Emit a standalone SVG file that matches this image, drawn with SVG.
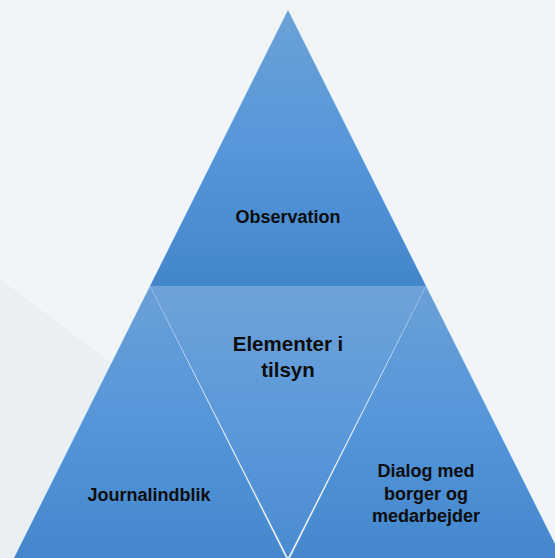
<svg xmlns="http://www.w3.org/2000/svg" width="555" height="558" viewBox="0 0 555 558">
  <defs>
    <linearGradient id="gTop" x1="0" y1="10" x2="0" y2="286" gradientUnits="userSpaceOnUse">
      <stop offset="0" stop-color="#6ba2d8"/>
      <stop offset="0.55" stop-color="#5495da"/>
      <stop offset="1" stop-color="#4286ca"/>
    </linearGradient>
    <linearGradient id="gMid" x1="0" y1="286" x2="0" y2="558" gradientUnits="userSpaceOnUse">
      <stop offset="0" stop-color="#6fa2d9"/>
      <stop offset="0.5" stop-color="#5b99da"/>
      <stop offset="1" stop-color="#4a8bcf"/>
    </linearGradient>
    <linearGradient id="gSide" x1="0" y1="286" x2="0" y2="558" gradientUnits="userSpaceOnUse">
      <stop offset="0" stop-color="#6aa0d8"/>
      <stop offset="0.5" stop-color="#5596da"/>
      <stop offset="1" stop-color="#4487cc"/>
    </linearGradient>
    <style>
      .lbl { font-family: "Liberation Sans", Arial, sans-serif; font-weight: bold; fill: #0d0d0d; text-anchor: middle; }
      .sep { fill: none; stroke: #ffffff; stroke-opacity: 0.3; stroke-width: 0.7; stroke-dasharray: 1.5 1.5; }
    </style>
  </defs>
  <rect x="0" y="0" width="555" height="558" fill="#f2f5f8"/>
  <polygon points="0,279 370,558 0,558" fill="#e9eff2"/>

  <g id="node-observation">
    <polygon points="288,10 426,286 150,286" fill="url(#gTop)"/>
    <text class="lbl" x="288" y="223" font-size="18">Observation</text>
  </g>
  <g id="node-journalindblik">
    <polygon points="150,286 286,558 14,558" fill="url(#gSide)"/>
    <text class="lbl" x="149" y="501" font-size="18">Journalindblik</text>
  </g>
  <g id="node-dialog">
    <polygon points="426,286 562,558 290,558" fill="url(#gSide)"/>
    <text class="lbl" font-size="18" x="426"><tspan x="426" y="477">Dialog med</tspan><tspan x="426" y="499.5">borger og</tspan><tspan x="426" y="522">medarbejder</tspan></text>
  </g>
  <g id="node-elementer">
    <polygon points="150,286 426,286 288,558" fill="url(#gMid)"/>
    <path class="sep" d="M150,286 L288,558 L426,286"/>
    <text class="lbl" font-size="20.5" x="288"><tspan x="288" y="351">Elementer i</tspan><tspan x="288" y="377">tilsyn</tspan></text>
  </g>
  <g id="connectors"></g>
</svg>
